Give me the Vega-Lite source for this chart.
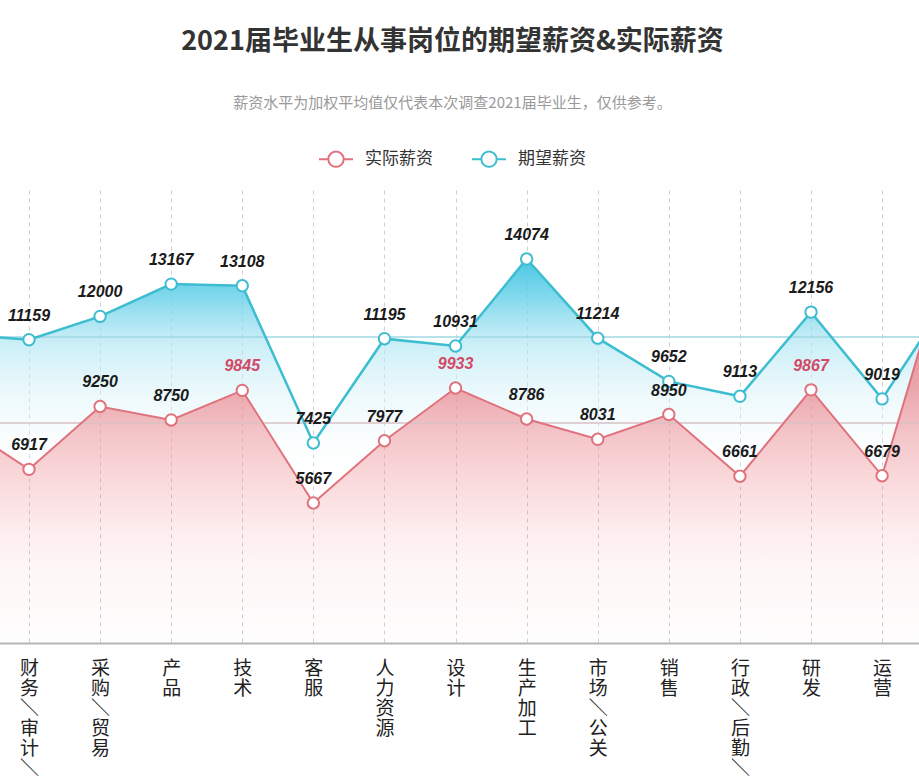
{
  "$schema": "https://vega.github.io/schema/vega-lite/v6.json",
  "autosize": {"type": "none"},
  "width": 919,
  "height": 453,
  "padding": {"top": 190, "left": 0, "right": 0, "bottom": 134},
  "background": "white",
  "title": {
    "text": "2021届毕业生从事岗位的期望薪资&实际薪资",
    "subtitle": "薪资水平为加权平均值仅代表本次调查2021届毕业生，仅供参考。",
    "anchor": "middle",
    "frame": "group",
    "dx": -7,
    "offset": 29,
    "font": "Noto Sans CJK SC",
    "fontSize": 27,
    "fontWeight": "bold",
    "color": "#333333",
    "subtitleFont": "Noto Sans CJK SC",
    "subtitleFontSize": 15,
    "subtitleColor": "#999999",
    "subtitlePadding": 40
  },
  "datasets": {
    "salary": [
      {"cat": "编辑/出版", "series": "期望薪资", "value": 11360},
      {"cat": "财务/审计/税务", "series": "期望薪资", "value": 11159},
      {"cat": "采购/贸易", "series": "期望薪资", "value": 12000},
      {"cat": "产品", "series": "期望薪资", "value": 13167},
      {"cat": "技术", "series": "期望薪资", "value": 13108},
      {"cat": "客服", "series": "期望薪资", "value": 7425},
      {"cat": "人力资源", "series": "期望薪资", "value": 11195},
      {"cat": "设计", "series": "期望薪资", "value": 10931},
      {"cat": "生产加工", "series": "期望薪资", "value": 14074},
      {"cat": "市场/公关", "series": "期望薪资", "value": 11214},
      {"cat": "销售", "series": "期望薪资", "value": 9652},
      {"cat": "行政/后勤/文秘", "series": "期望薪资", "value": 9113},
      {"cat": "研发", "series": "期望薪资", "value": 12156},
      {"cat": "运营", "series": "期望薪资", "value": 9019},
      {"cat": "咨询/顾问", "series": "期望薪资", "value": 12920},
      {"cat": "编辑/出版", "series": "实际薪资", "value": 8655},
      {"cat": "财务/审计/税务", "series": "实际薪资", "value": 6917},
      {"cat": "采购/贸易", "series": "实际薪资", "value": 9250},
      {"cat": "产品", "series": "实际薪资", "value": 8750},
      {"cat": "技术", "series": "实际薪资", "value": 9845},
      {"cat": "客服", "series": "实际薪资", "value": 5667},
      {"cat": "人力资源", "series": "实际薪资", "value": 7977},
      {"cat": "设计", "series": "实际薪资", "value": 9933},
      {"cat": "生产加工", "series": "实际薪资", "value": 8786},
      {"cat": "市场/公关", "series": "实际薪资", "value": 8031},
      {"cat": "销售", "series": "实际薪资", "value": 8950},
      {"cat": "行政/后勤/文秘", "series": "实际薪资", "value": 6661},
      {"cat": "研发", "series": "实际薪资", "value": 9867},
      {"cat": "运营", "series": "实际薪资", "value": 6679},
      {"cat": "咨询/顾问", "series": "实际薪资", "value": 15570}
    ],
    "avg": [
      {"series": "期望薪资", "value": 11256},
      {"series": "实际薪资", "value": 8636}
    ]
  },
  "layer": [
    {
      "data": {"name": "salary"},
      "transform": [{"filter": "datum.series == '期望薪资'"}],
      "mark": {
        "type": "area",
        "clip": true,
        "color": {
          "gradient": "linear", "x1": 0, "y1": 0, "x2": 0, "y2": 1,
          "stops": [
            {"offset": 0, "color": "rgba(64,196,226,0.95)"},
            {"offset": 0.1, "color": "rgba(100,208,232,0.8)"},
            {"offset": 0.22, "color": "rgba(170,228,242,0.6)"},
            {"offset": 0.35, "color": "rgba(215,242,248,0.45)"},
            {"offset": 0.48, "color": "rgba(235,248,251,0.2)"},
            {"offset": 0.6, "color": "rgba(255,255,255,0)"},
            {"offset": 1, "color": "rgba(255,255,255,0)"}
          ]
        }
      },
      "encoding": {
        "x": {
          "field": "cat", "type": "ordinal", "sort": null,
          "scale": {"type": "point", "padding": 0, "range": [-42.1, 953.2]},
          "axis": {
            "title": null,
            "orient": "bottom",
            "domainColor": "#b5b5b5",
            "domainWidth": 2,
            "ticks": false,
            "grid": true,
            "gridDash": [4, 4],
            "gridColor": "#cfcfcf",
            "gridWidth": 1,
            "labelAngle": 0,
            "labelAlign": "center",
            "labelBaseline": "top",
            "labelPadding": 16,
            "labelFont": "Noto Sans CJK SC",
            "labelFontSize": 19,
            "labelLineHeight": 20,
            "labelColor": "#222222",
            "labelOverlap": false,
            "labelBound": false,
            "labelExpr": "split(replace(datum.value, /\\//g, '＼'), '')"
          }
        },
        "y": {"field": "value", "type": "quantitative", "scale": {"domain": [199, 16568], "zero": false, "nice": false}, "axis": null}
      }
    },
    {
      "data": {"name": "salary"},
      "transform": [{"filter": "datum.series == '实际薪资'"}],
      "mark": {
        "type": "area",
        "clip": true,
        "color": {
          "gradient": "linear", "x1": 0, "y1": 0, "x2": 0, "y2": 1,
          "stops": [
            {"offset": 0, "color": "rgba(232,105,115,0.75)"},
            {"offset": 0.36, "color": "rgba(235,110,118,0.6)"},
            {"offset": 0.46, "color": "rgba(235,110,118,0.41)"},
            {"offset": 0.58, "color": "rgba(235,110,118,0.26)"},
            {"offset": 0.7, "color": "rgba(235,110,118,0.13)"},
            {"offset": 0.8, "color": "rgba(235,110,118,0.06)"},
            {"offset": 1, "color": "rgba(235,110,118,0)"}
          ]
        }
      },
      "encoding": {
        "x": {"field": "cat", "type": "ordinal", "sort": null},
        "y": {"field": "value", "type": "quantitative", "scale": {"domain": [475, 17280], "zero": false, "nice": false}, "axis": null}
      }
    },
    {
      "data": {"name": "avg"},
      "transform": [{"filter": "datum.series == '期望薪资'"}],
      "mark": {"type": "rule", "color": "#9fd9e2", "strokeWidth": 1.5},
      "encoding": {
        "y": {"field": "value", "type": "quantitative", "scale": {"domain": [199, 16568], "zero": false, "nice": false}, "axis": null}
      }
    },
    {
      "data": {"name": "avg"},
      "transform": [{"filter": "datum.series == '实际薪资'"}],
      "mark": {"type": "rule", "color": "#d9c2c5", "strokeWidth": 1.5},
      "encoding": {
        "y": {"field": "value", "type": "quantitative", "scale": {"domain": [475, 17280], "zero": false, "nice": false}, "axis": null}
      }
    },
    {
      "data": {"name": "salary"},
      "transform": [{"filter": "datum.series == '期望薪资'"}],
      "mark": {"type": "line", "clip": true, "strokeWidth": 2.5},
      "encoding": {
        "x": {"field": "cat", "type": "ordinal", "sort": null},
        "y": {"field": "value", "type": "quantitative", "scale": {"domain": [199, 16568], "zero": false, "nice": false}, "axis": null},
        "color": {
          "field": "series", "type": "nominal",
          "scale": {"domain": ["实际薪资", "期望薪资"], "range": ["#df727c", "#3dbdd0"]},
          "legend": {
            "title": null,
            "orient": "none",
            "direction": "horizontal",
            "legendX": 318,
            "legendY": -49,
            "symbolType": "M-1,0L-0.45,0M0.45,0L1,0M0.45,0A0.45,0.45,0,1,1,-0.45,0A0.45,0.45,0,1,1,0.45,0",
            "symbolSize": 1156,
            "symbolStrokeWidth": 2,
            "labelFont": "Noto Sans CJK SC",
            "labelFontSize": 17,
            "labelColor": "#333333",
            "labelOffset": 11,
            "columnPadding": 35,
            "encode": {"symbols": {"update": {"fill": {"value": "white"}, "strokeWidth": {"value": 2}}}}
          }
        }
      }
    },
    {
      "data": {"name": "salary"},
      "transform": [{"filter": "datum.series == '实际薪资'"}],
      "mark": {"type": "line", "clip": true, "strokeWidth": 2},
      "encoding": {
        "x": {"field": "cat", "type": "ordinal", "sort": null},
        "y": {"field": "value", "type": "quantitative", "scale": {"domain": [475, 17280], "zero": false, "nice": false}, "axis": null},
        "color": {"field": "series", "type": "nominal"}
      }
    },
    {
      "data": {"name": "salary"},
      "transform": [{"filter": "datum.series == '期望薪资'"}],
      "mark": {"type": "point", "filled": true, "fill": "white", "stroke": "#3dbdd0", "strokeWidth": 2, "size": 130, "opacity": 1},
      "encoding": {
        "x": {"field": "cat", "type": "ordinal", "sort": null},
        "y": {"field": "value", "type": "quantitative", "scale": {"domain": [199, 16568], "zero": false, "nice": false}, "axis": null}
      }
    },
    {
      "data": {"name": "salary"},
      "transform": [{"filter": "datum.series == '实际薪资'"}],
      "mark": {"type": "point", "filled": true, "fill": "white", "stroke": "#df727c", "strokeWidth": 2, "size": 130, "opacity": 1},
      "encoding": {
        "x": {"field": "cat", "type": "ordinal", "sort": null},
        "y": {"field": "value", "type": "quantitative", "scale": {"domain": [475, 17280], "zero": false, "nice": false}, "axis": null}
      }
    },
    {
      "data": {"name": "salary"},
      "transform": [{"filter": "datum.series == '期望薪资'"}],
      "mark": {"type": "text", "font": "Liberation Sans, Arial, sans-serif", "fontStyle": "italic", "fontWeight": "bold", "fontSize": 16, "baseline": "alphabetic", "dy": -19, "color": "#1a1a1a"},
      "encoding": {
        "x": {"field": "cat", "type": "ordinal", "sort": null},
        "y": {"field": "value", "type": "quantitative", "scale": {"domain": [199, 16568], "zero": false, "nice": false}, "axis": null},
        "text": {"field": "value", "type": "quantitative", "format": "d"}
      }
    },
    {
      "data": {"name": "salary"},
      "transform": [{"filter": "datum.series == '实际薪资'"}],
      "mark": {"type": "text", "font": "Liberation Sans, Arial, sans-serif", "fontStyle": "italic", "fontWeight": "bold", "fontSize": 16, "baseline": "alphabetic", "dy": -19},
      "encoding": {
        "x": {"field": "cat", "type": "ordinal", "sort": null},
        "y": {"field": "value", "type": "quantitative", "scale": {"domain": [475, 17280], "zero": false, "nice": false}, "axis": null},
        "text": {"field": "value", "type": "quantitative", "format": "d"},
        "color": {"condition": {"test": "datum.value >= 9800 && datum.value < 12000", "value": "#d24a66"}, "value": "#1a1a1a"}
      }
    }
  ],
  "resolve": {"scale": {"y": "independent"}},
  "config": {
    "view": {"stroke": null}
  }
}
